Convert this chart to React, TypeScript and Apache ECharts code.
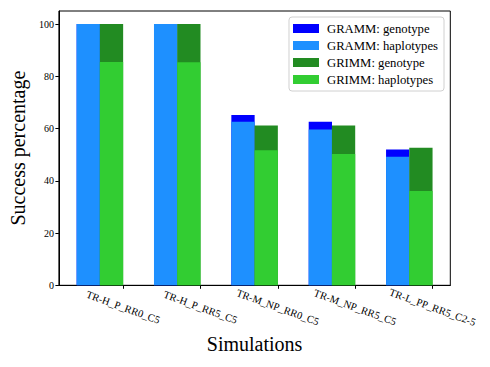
import React, { useEffect, useRef } from "react";
import * as echarts from "echarts";

const categories = [
  "TR-H_P_RR0_C5",
  "TR-H_P_RR5_C5",
  "TR-M_NP_RR0_C5",
  "TR-M_NP_RR5_C5",
  "TR-L_PP_RR5_C2-5",
];
// GRAMM: genotype is the top of the stacked GRAMM bar (haplotypes + genotype)
const grammGenotypeTotal = [100, 100, 65.2, 62.6, 52.0];
const grammHaplotypes = [100, 100, 62.6, 59.6, 49.2];
// GRIMM: genotype is the top of the stacked GRIMM bar
const grimmGenotypeTotal = [100, 100, 61.2, 61.2, 52.7];
const grimmHaplotypes = [85.5, 85.4, 51.7, 50.3, 36.1];
const yTicks = [0, 20, 40, 60, 80, 100];

const FONT = "Liberation Serif";

export default function App() {
  const ref = useRef<HTMLDivElement>(null);
  useEffect(() => {
    if (!ref.current) return;
    const chart = echarts.init(ref.current, null, { renderer: "svg" });
    const idx = categories.map((_, i) => i);
    const at = (off: number, vals: number[]) => vals.map((v, i) => [idx[i] + off, v]);
    const barW = 23.3;
    const bar = (name: string, color: string, off: number, vals: number[]) => ({
      name,
      type: "bar",
      barWidth: barW,
      barGap: "-100%",
      itemStyle: { color },
      data: at(off, vals),
    });
    chart.setOption({
      animation: false,
      backgroundColor: "#fff",
      grid: {
        left: 58.3,
        right: 39.7,
        top: 11,
        bottom: 81.7,
        show: true,
        borderColor: "#000",
        borderWidth: 1,
        backgroundColor: "transparent",
      },
      legend: {
        orient: "vertical",
        right: 46,
        top: 17,
        data: [
          "GRAMM: genotype",
          "GRAMM: haplotypes",
          "GRIMM: genotype",
          "GRIMM: haplotypes",
        ],
        icon: "rect",
        itemWidth: 26,
        itemHeight: 9,
        itemGap: 4,
        padding: [5, 6, 5, 4],
        borderColor: "#d0d0d0",
        borderWidth: 1,
        borderRadius: 3,
        backgroundColor: "rgba(255,255,255,0.8)",
        textStyle: { fontFamily: FONT, fontSize: 12.7, color: "#000", padding: [0, 0, 0, 3] },
      },
      xAxis: {
        type: "value",
        min: -0.83,
        max: 4.23,
        name: "Simulations",
        nameLocation: "middle",
        nameGap: 48,
        nameTextStyle: { fontFamily: FONT, fontSize: 20, color: "#000" },
        splitLine: { show: false },
        axisLine: { show: true, onZero: false, lineStyle: { color: "#000", width: 1 } },
        axisTick: {
          show: true,
          length: 3.5,
          lineStyle: { color: "#000" },
          customValues: idx,
        },
        axisLabel: {
          customValues: idx,
          formatter: (v: number) => categories[Math.round(v)] ?? "",
          rotate: -20,
          align: "center",
          verticalAlign: "middle",
          margin: 22,
          fontFamily: FONT,
          fontSize: 10.5,
          color: "#000",
        },
      },
      yAxis: {
        type: "value",
        min: 0,
        max: 105,
        interval: 20,
        name: "Success percentage",
        nameLocation: "middle",
        nameGap: 27,
        nameTextStyle: { fontFamily: FONT, fontSize: 20, color: "#000" },
        splitLine: { show: false },
        axisLine: { show: true, onZero: false, lineStyle: { color: "#000", width: 1 } },
        axisTick: { show: true, length: 3.5, lineStyle: { color: "#000" }, customValues: yTicks },
        axisLabel: {
          customValues: yTicks,
          fontFamily: FONT,
          fontSize: 10,
          color: "#000",
          margin: 5,
        },
      },
      series: [
        bar("GRAMM: genotype", "#0000ff", -0.45, grammGenotypeTotal),
        bar("GRAMM: haplotypes", "#1e90ff", -0.45, grammHaplotypes),
        bar("GRIMM: genotype", "#228b22", -0.15, grimmGenotypeTotal),
        bar("GRIMM: haplotypes", "#32cd32", -0.15, grimmHaplotypes),
      ],
    });
    return () => chart.dispose();
  }, []);
  return (
    <div
      ref={ref}
      style={{ position: "absolute", left: 0, top: 0, width: 490, height: 367 }}
    />
  );
}
